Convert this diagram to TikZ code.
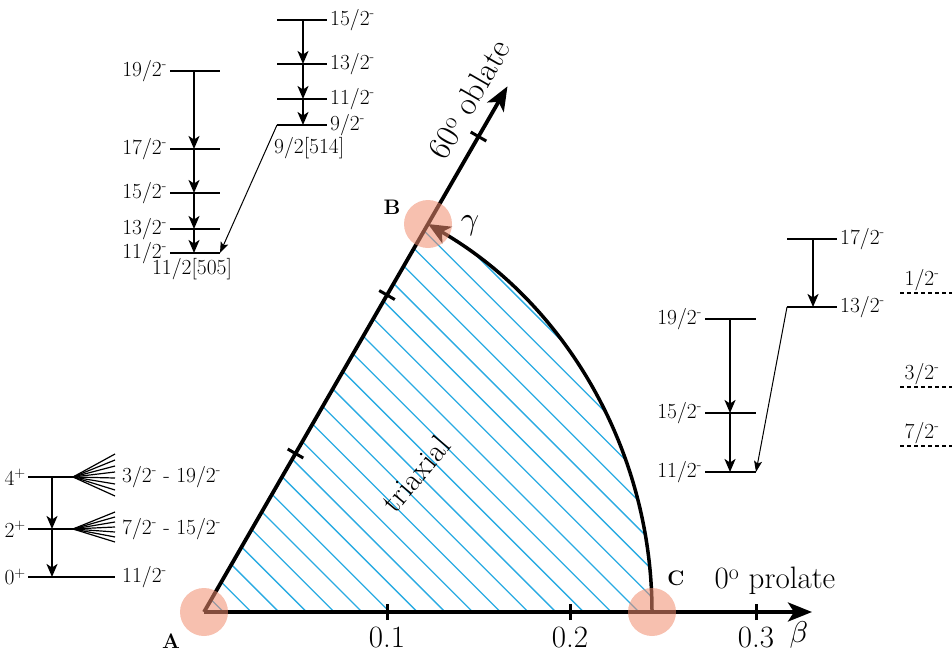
\documentclass[tikz,border=0pt]{standalone}
\usepackage{fontspec}
\usetikzlibrary{arrows.meta,calc}
\definecolor{hatchblue}{RGB}{41,171,226}
\definecolor{salmonc}{RGB}{240,140,110}
\begin{document}
\begin{tikzpicture}[x=1pt,y=1pt,
  lev/.style={line width=2pt},
  trans/.style={line width=2pt,-{Stealth[length=13pt,width=11pt,inset=3.5pt]}},
  diag/.style={line width=1pt,-{Stealth[length=11pt,width=8pt,inset=2.5pt]}},
  fan/.style={line width=1.2pt},
  lab/.style={font=\fontsize{21.5}{25}\selectfont, inner sep=1pt},
  big/.style={font=\fontsize{31}{36}\selectfont, inner sep=0pt},
  corner/.style={font=\fontsize{21}{24}\selectfont\bfseries, inner sep=0pt},
  axis/.style={line width=3.8pt,-{Stealth[length=24pt,width=19pt,inset=6pt]}},
  tick/.style={line width=3pt},
  spot/.style={circle, fill=salmonc, fill opacity=0.55, minimum size=48pt, inner sep=0pt},
  dashlev/.style={line width=1.2pt, dash pattern=on 4pt off 3pt}]
\useasboundingbox (0,0) rectangle (952,654);

% key points
\coordinate (A) at (204,42);
\coordinate (C) at (652,42);
\coordinate (B) at ($(A)+(60:448)$);
\coordinate (xend) at (812,42);
\coordinate (yend) at ($(A)+(60:607)$);

% hatching of the triaxial sector
\begin{scope}
  \clip (A) -- (C) arc[start angle=0,end angle=60,radius=448] -- cycle;
  \foreach \k in {-8,...,17}{
    \pgfmathsetmacro\dd{681-27.7*\k}
    \draw[hatchblue, line width=1.3pt] (\dd,0) -- ({\dd-700},700);
  }
\end{scope}

% axes
\draw[axis] (A) -- (xend);
\draw[axis] (A) -- (yend);
\draw[line width=3.5pt,-{Stealth[length=22pt,width=19pt,inset=6pt]}]
  (C) arc[start angle=0,end angle=60,radius=448];

% ticks on beta axis
\foreach \x/\t in {387/0.1,570/0.2,756/0.3}{
  \coordinate (t\x) at (\x,42);
  \draw[tick] ($(t\x)+(0,-8)$) -- ($(t\x)+(0,8)$);
  \node[big, anchor=center] (l\x) at (\x,17) {\t};
}
% ticks on oblate axis
\foreach \r in {183,366,549}{
  \coordinate (o\r) at ($(A)+(60:\r)$);
  \draw[tick] ($(o\r)+(150:9)$) -- ($(o\r)+(-30:9)$);
}

% axis labels
\node[scale=3.0, inner sep=0pt] (betalab) at (799,19) {$\beta$};
\node[big] (prolate) at (775,73) {0\textsuperscript{o} prolate};
\node[font=\fontsize{33}{38}\selectfont, inner sep=0pt, rotate=60] (oblate) at (469,555) {60\textsuperscript{o} oblate};
\node[font=\fontsize{31}{36}\selectfont, rotate=50] (triax) at (416,180) {triaxial};
\node[scale=3.2, inner sep=0pt] (gam) at (470,428) {$\gamma$};
\node[corner] (Alab) at (171,13) {A};
\node[corner] (Blab) at (392,447) {B};
\node[corner] (Clab) at (676,76) {C};

% ===== top-left level scheme =====
\foreach \n/\y/\t in {a19/583/19,a17/505/17,a15/461/15,a13/425/13,a11/401/11}{
  \coordinate (\n L) at (170,\y);
  \coordinate (\n R) at (220,\y);
  \coordinate (\n M) at (194,\y);
  \draw[lev] (\n L) -- (\n R);
  \node[lab, anchor=east] (\n t) at (168,\y) {\t/2\textsuperscript{-}};
}
\draw[trans] (a19M) -- (a17M);
\draw[trans] (a17M) -- (a15M);
\draw[trans] (a15M) -- (a13M);
\draw[trans] (a13M) -- (a11M);
\node[lab] (nils1) at (192,385) {11/2[505]};

\foreach \n/\y/\t in {b15/634/15,b13/590/13,b11/555/11,b9/529/9}{
  \coordinate (\n L) at (277,\y);
  \coordinate (\n R) at (327,\y);
  \coordinate (\n M) at (303,\y);
  \draw[lev] (\n L) -- (\n R);
  \node[lab, anchor=west] (\n t) at (329,\y) {\t/2\textsuperscript{-}};
}
\draw[trans] (b15M) -- (b13M);
\draw[trans] (b13M) -- (b11M);
\draw[trans] (b11M) -- (b9M);
\node[lab, anchor=west] (nils2) at (273,506) {9/2[514]};
\draw[diag] (b9L) -- (a11R);

% ===== right level scheme =====
\foreach \n/\y/\t in {c17/415/17,c13/347/13}{
  \coordinate (\n L) at (787,\y);
  \coordinate (\n R) at (837,\y);
  \coordinate (\n M) at (813,\y);
  \draw[lev] (\n L) -- (\n R);
  \node[lab, anchor=west] (\n t) at (839,\y) {\t/2\textsuperscript{-}};
}
\draw[trans] (c17M) -- (c13M);
\foreach \n/\y/\t in {d19/335/19,d15/241/15,d11/182/11}{
  \coordinate (\n L) at (705,\y);
  \coordinate (\n R) at (756,\y);
  \coordinate (\n M) at (730,\y);
  \draw[lev] (\n L) -- (\n R);
  \node[lab, anchor=east] (\n t) at (703,\y) {\t/2\textsuperscript{-}};
}
\draw[trans] (d19M) -- (d15M);
\draw[trans] (d15M) -- (d11M);
\draw[diag] (c13L) -- (d11R);

% dashed levels at the right edge
\foreach \n/\y/\t in {e1/361/1,e3/267/3,e7/208/7}{
  \coordinate (\n L) at (900,\y);
  \coordinate (\n R) at (952,\y);
  \draw[dashlev] (\n L) -- (\n R);
  \node[lab, anchor=south] (\n t) at (922,\y+1) {\t/2\textsuperscript{-}};
}

% ===== bottom-left coupling scheme =====
\coordinate (g4L) at (28,177); \coordinate (g4R) at (73,177); \coordinate (g4M) at (52,177);
\coordinate (g2L) at (28,125); \coordinate (g2R) at (73,125); \coordinate (g2M) at (52,125);
\coordinate (g0L) at (28,77);  \coordinate (g0R) at (115,77); \coordinate (g0M) at (52,77);
\draw[lev] (g4L) -- (g4R);
\draw[lev] (g2L) -- (g2R);
\draw[lev] (g0L) -- (g0R);
\draw[trans] (g4M) -- (g2M);
\draw[trans] (g2M) -- (g0M);
\foreach \yy in {200,194,188,182,176,170,164,158}{
  \coordinate (f4) at (115,\yy);
  \draw[fan] (g4R) -- (f4);
}
\foreach \yy in {142,137,132,127,122,117,112}{
  \coordinate (f2) at (115,\yy);
  \draw[fan] (g2R) -- (f2);
}
\node[lab, anchor=east] (g4t) at (27,177) {4\textsuperscript{+}};
\node[lab, anchor=east] (g2t) at (27,125) {2\textsuperscript{+}};
\node[lab, anchor=east] (g0t) at (27,77) {0\textsuperscript{+}};
\node[lab, anchor=west] (g4r) at (121,177) {3/2\textsuperscript{-} - 19/2\textsuperscript{-}};
\node[lab, anchor=west] (g2r) at (121,125) {7/2\textsuperscript{-} - 15/2\textsuperscript{-}};
\node[lab, anchor=west] (g0r) at (121,77) {11/2\textsuperscript{-}};

% highlighted shape points
\node[spot] (sA) at (A) {};
\node[spot] (sB) at (B) {};
\node[spot] (sC) at (C) {};
\end{tikzpicture}
\end{document}
